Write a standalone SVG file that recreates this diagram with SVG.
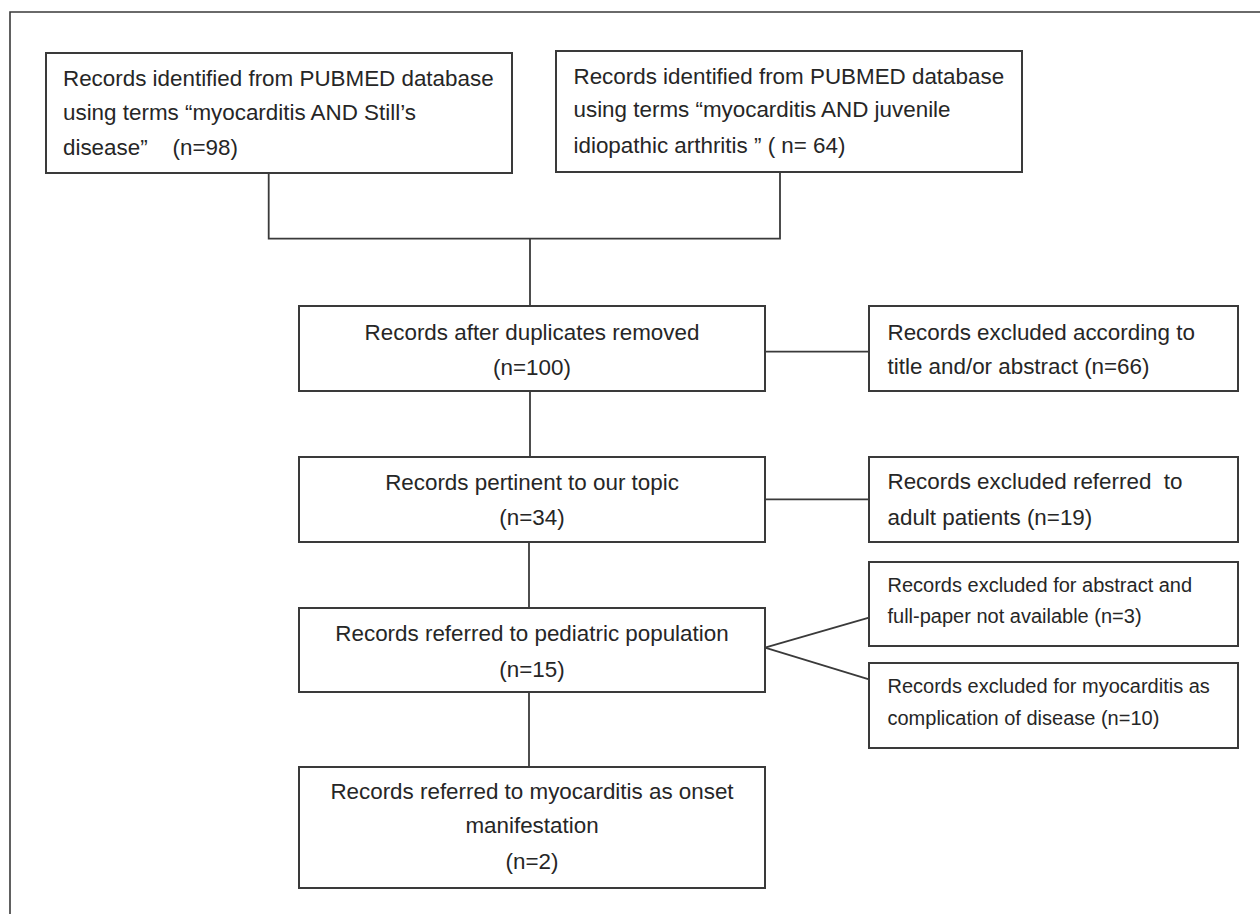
<svg xmlns="http://www.w3.org/2000/svg" width="1260" height="914" viewBox="0 0 1260 914">
<style>
.box{fill:#fff;stroke:#3a3a3a;stroke-width:2}
.con{fill:none;stroke:#3a3a3a;stroke-width:1.8}
text{font-family:"Liberation Sans",Arial,sans-serif;font-size:22.4px;fill:#262626;white-space:pre}
.c{text-anchor:middle}
.s{font-size:20px}
</style>
<rect width="1260" height="914" fill="#fff"/>
<path id="frame" d="M10,914 V12 H1260" fill="none" stroke="#3a3a3a" stroke-width="1.6"/>
<g id="connectors">
<path class="con" d="M268.7,173 V238.7 H780 V171.7"/>
<path class="con" d="M530,238.7 V306"/>
<path class="con" d="M530,391 V457"/>
<path class="con" d="M529,542 V608"/>
<path class="con" d="M529,692 V767"/>
<path class="con" d="M765,351.7 H869"/>
<path class="con" d="M765,499.3 H869"/>
<path class="con" d="M765,647.7 L869,617.7"/>
<path class="con" d="M765,647.7 L869,679.3"/>
</g>
<g id="n1">
<rect class="box" x="46" y="53" width="466" height="120"/>
<text x="63" y="86">Records identified from PUBMED database</text>
<text x="63" y="120">using terms “myocarditis AND Still’s</text>
<text x="63" y="155">disease”    (n=98)</text>
</g>
<g id="n2">
<rect class="box" x="556" y="51" width="466" height="121"/>
<text x="573.5" y="83.5">Records identified from PUBMED database</text>
<text x="573.5" y="117">using terms “myocarditis AND juvenile</text>
<text x="573.5" y="152.5">idiopathic arthritis ” ( n= 64)</text>
</g>
<g id="n3">
<rect class="box" x="299" y="306" width="466" height="85"/>
<text class="c" x="532" y="340">Records after duplicates removed</text>
<text class="c" x="532" y="375">(n=100)</text>
</g>
<g id="n4">
<rect class="box" x="299" y="457" width="466" height="85"/>
<text class="c" x="532" y="490">Records pertinent to our topic</text>
<text class="c" x="532" y="525">(n=34)</text>
</g>
<g id="n5">
<rect class="box" x="299" y="608" width="466" height="84"/>
<text class="c" x="532" y="641">Records referred to pediatric population</text>
<text class="c" x="532" y="676.7">(n=15)</text>
</g>
<g id="n6">
<rect class="box" x="299" y="767" width="466" height="121"/>
<text class="c" x="532" y="799">Records referred to myocarditis as onset</text>
<text class="c" x="532" y="833">manifestation</text>
<text class="c" x="532" y="869">(n=2)</text>
</g>
<g id="r1">
<rect class="box" x="869" y="306" width="369" height="85"/>
<text x="887.5" y="340">Records excluded according to</text>
<text x="887.5" y="374">title and/or abstract (n=66)</text>
</g>
<g id="r2">
<rect class="box" x="869" y="457" width="369" height="85"/>
<text x="887.5" y="489">Records excluded referred  to</text>
<text x="887.5" y="525">adult patients (n=19)</text>
</g>
<g id="r3">
<rect class="box" x="869" y="562" width="369" height="84"/>
<text class="s" x="887.5" y="591.7">Records excluded for abstract and</text>
<text class="s" x="887.5" y="623">full-paper not available (n=3)</text>
</g>
<g id="r4">
<rect class="box" x="869" y="663" width="369" height="85"/>
<text class="s" x="887.5" y="692.7">Records excluded for myocarditis as</text>
<text class="s" x="887.5" y="725">complication of disease (n=10)</text>
</g>
</svg>
